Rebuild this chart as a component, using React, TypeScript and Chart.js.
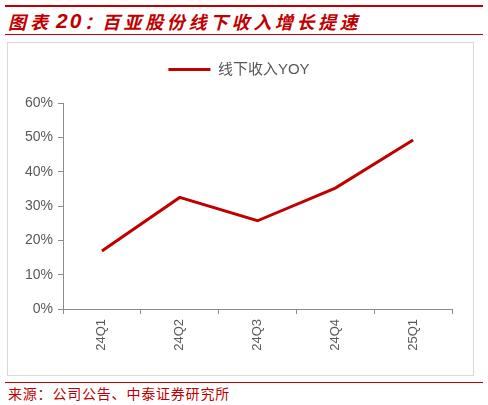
import React, { useEffect, useRef } from "react";
import { Chart, registerables } from "chart.js";

Chart.register(...registerables);

const categories = ["24Q1", "24Q2", "24Q3", "24Q4", "25Q1"];
const seriesName = "线下收入YOY";
const offlineYoy = [16.9, 32.5, 25.7, 35.2, 49.2];
const yTicks = [0, 10, 20, 30, 40, 50, 60];

const titlePrefix = "图表";
const titleNumber = "20";
const titleColon = "：";
const titleMain = "百亚股份线下收入增长提速";
const sourceText = "来源：公司公告、中泰证券研究所";

const RED = "#C00000";
const AXIS = "#8c8c8c";
const LABEL = "#595959";
const FONT = "'Liberation Sans', Arial, 'Noto Sans CJK SC', sans-serif";
const CJK = "'Noto Sans CJK SC', sans-serif";

const legendPlugin = {
  id: "legendTweak",
  beforeInit(chart: any) {
    const legend = chart.legend;
    if (!legend) return;
    const fit = legend.fit;
    legend.fit = function () {
      fit.call(legend);
      legend.height = 41;
    };
  },
  afterLayout(chart: any) {
    const legend = chart.legend;
    if (!legend) return;
    legend.left += 9;
    legend.right += 9;
  },
};

export default function App() {
  const canvasRef = useRef<HTMLCanvasElement | null>(null);

  useEffect(() => {
    if (!canvasRef.current) return;
    const chart = new Chart(canvasRef.current, {
      type: "line",
      data: {
        labels: categories,
        datasets: [
          {
            label: seriesName,
            data: offlineYoy,
            borderColor: RED,
            backgroundColor: RED,
            borderWidth: 3,
            pointRadius: 0,
            pointHoverRadius: 0,
            tension: 0,
            fill: false,
          },
        ],
      },
      options: {
        animation: false,
        responsive: false,
        maintainAspectRatio: false,
        layout: { padding: { left: 0, right: 21, top: 19, bottom: 0 } },
        plugins: {
          legend: {
            display: true,
            position: "top",
            labels: {
              usePointStyle: true,
              pointStyle: "line",
              pointStyleWidth: 42,
              boxHeight: 15,
              padding: 0,
              color: LABEL,
              font: { family: FONT, size: 15 },
            },
          },
          tooltip: { enabled: false },
        },
        scales: {
          x: {
            type: "category",
            offset: true,
            grid: {
              offset: true,
              display: true,
              drawOnChartArea: false,
              drawTicks: true,
              tickLength: 5,
              color: AXIS,
              lineWidth: 1,
            },
            border: { display: true, color: AXIS, width: 1 },
            ticks: {
              color: LABEL,
              font: { family: FONT, size: 13 },
              minRotation: 90,
              maxRotation: 90,
              padding: 5,
              autoSkip: false,
            },
            afterFit: (axis: any) => {
              axis.height = 66;
            },
          },
          y: {
            type: "linear",
            min: 0,
            max: 60,
            afterBuildTicks: (axis: any) => {
              axis.ticks = yTicks.map((v) => ({ value: v }));
            },
            grid: {
              display: true,
              drawOnChartArea: false,
              drawTicks: true,
              tickLength: 5,
              color: AXIS,
              lineWidth: 1,
            },
            border: { display: true, color: AXIS, width: 1 },
            ticks: {
              color: LABEL,
              font: { family: FONT, size: 14 },
              padding: 5,
              callback: (v: any) => v + "%",
            },
            afterFit: (axis: any) => {
              axis.width = 55;
            },
          },
        },
      },
      plugins: [legendPlugin],
    } as any);
    return () => chart.destroy();
  }, []);

  const titleBase: React.CSSProperties = {
    position: "absolute",
    top: 10,
    height: 22,
    lineHeight: "22px",
    whiteSpace: "nowrap",
    fontFamily: CJK,
    fontSize: 18,
    fontWeight: 700,
    fontStyle: "italic",
    color: RED,
  };

  return (
    <div
      style={{
        position: "absolute",
        left: 0,
        top: 0,
        width: 488,
        height: 405,
        background: "#fff",
        overflow: "hidden",
      }}
    >
      <div style={{ position: "absolute", left: 5, top: 5, width: 478, height: 2, background: RED }} />
      <span style={{ ...titleBase, left: 8, letterSpacing: 4 }}>{titlePrefix}</span>
      <span
        style={{
          ...titleBase,
          left: 56,
          fontFamily: "'Liberation Sans', Arial, sans-serif",
          fontSize: 21,
          letterSpacing: 2,
        }}
      >
        {titleNumber}
      </span>
      <span style={{ ...titleBase, left: 84 }}>{titleColon}</span>
      <span style={{ ...titleBase, left: 102, letterSpacing: 3.6 }}>{titleMain}</span>
      <div style={{ position: "absolute", left: 5, top: 34, width: 478, height: 1, background: RED }} />
      <div
        style={{
          position: "absolute",
          left: 7,
          top: 42,
          width: 465,
          height: 332,
          border: "1px solid #d9d9d9",
        }}
      >
        <canvas ref={canvasRef} width={465} height={332} style={{ display: "block", width: 465, height: 332 }} />
      </div>
      <div style={{ position: "absolute", left: 5, top: 382, width: 478, height: 1, background: RED }} />
      <div
        style={{
          position: "absolute",
          left: 8,
          top: 384,
          height: 18,
          lineHeight: "18px",
          whiteSpace: "nowrap",
          fontFamily: CJK,
          fontSize: 14,
          letterSpacing: 0.8,
          color: RED,
        }}
      >
        {sourceText}
      </div>
    </div>
  );
}
